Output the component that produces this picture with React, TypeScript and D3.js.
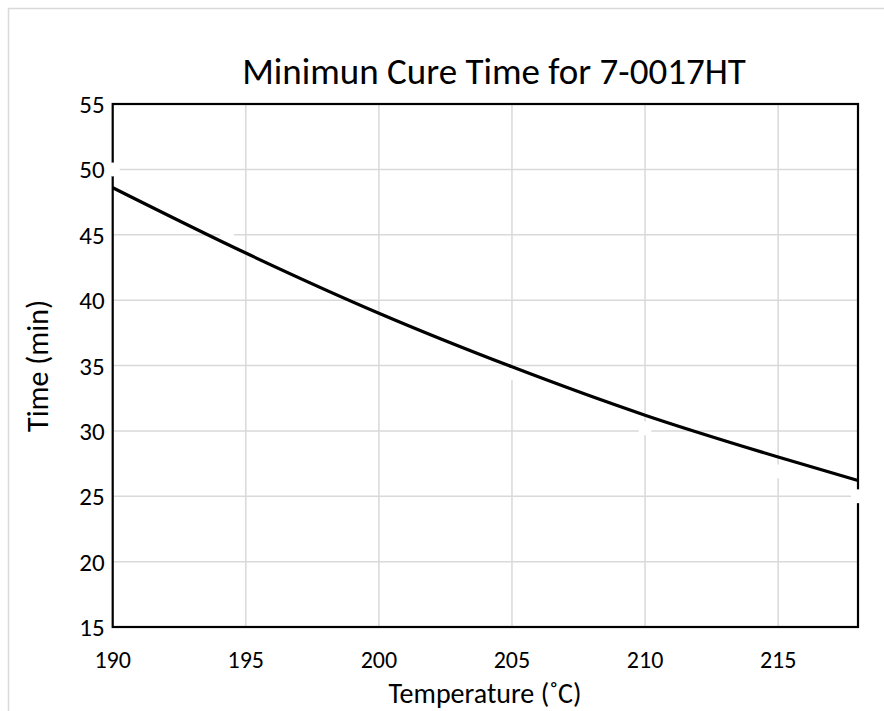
import React from "react";
import * as d3 from "d3";

const temperatures = [190, 195, 200, 205, 210, 215, 218];
const cureTimes = [48.6, 43.6, 39.0, 34.9, 31.2, 28.0, 26.2];

// faint white marker series visible in the reference
const markerTemps = [190, 194.3, 205, 210, 215, 218];
const markerTimes = [50, 45, 34.4, 30.2, 26.9, 25];

const xTicks = [190, 195, 200, 205, 210, 215];
const yTicks = [15, 20, 25, 30, 35, 40, 45, 50, 55];

const title = "Minimun Cure Time for 7-0017HT";
const xTitle = "Temperature (˚C)";
const yTitle = "Time (min)";

const W = 884;
const H = 711;
const left = 112.7;
const right = 858;
const top = 104;
const bottom = 627;
const FONT = "Carlito, Calibri, Lato, 'Liberation Sans', Arial, sans-serif";

export default function App() {
  const x = d3.scaleLinear().domain([190, 218]).range([left, right]);
  const y = d3.scaleLinear().domain([15, 55]).range([bottom, top]);
  const pts: [number, number][] = temperatures.map((t, i) => [t, cureTimes[i]]);
  const line = d3
    .line<[number, number]>()
    .x((d) => x(d[0]))
    .y((d) => y(d[1]))
    .curve(d3.curveMonotoneX);

  return (
    <svg
      width={W}
      height={H}
      style={{ position: "absolute", left: 0, top: 0, background: "#fff" }}
      fontFamily={FONT}
    >
      <rect x={8.5} y={8.5} width={W + 20} height={H + 20} fill="#fff" stroke="#d9d9d9" strokeWidth={1.5} />
      <text x={494} y={84} textAnchor="middle" fontSize={37} fill="#000">
        {title}
      </text>
      {xTicks.map((t) => (
        <line key={"gx" + t} x1={x(t)} x2={x(t)} y1={top} y2={bottom} stroke="#d9d9d9" strokeWidth={1.5} />
      ))}
      {yTicks.map((t) => (
        <line key={"gy" + t} x1={left} x2={right} y1={y(t)} y2={y(t)} stroke="#d9d9d9" strokeWidth={1.5} />
      ))}
      <rect x={left} y={top} width={right - left} height={bottom - top} fill="none" stroke="#000" strokeWidth={2.2} />
      {markerTemps.map((t, i) => (
        <circle key={"m" + i} cx={x(t)} cy={y(markerTimes[i])} r={7} fill="#fff" />
      ))}
      <path d={line(pts) || ""} fill="none" stroke="#000" strokeWidth={3.2} />
      {yTicks.map((t) => (
        <text key={"ty" + t} x={left - 8} y={y(t)} dy="0.36em" textAnchor="end" fontSize={25} fill="#000">
          {t}
        </text>
      ))}
      {xTicks.map((t) => (
        <text key={"tx" + t} x={x(t)} y={668} textAnchor="middle" fontSize={24} fill="#000">
          {t}
        </text>
      ))}
      <text x={485} y={703} textAnchor="middle" fontSize={28} fill="#000">
        {xTitle}
      </text>
      <text transform={`translate(48,366) rotate(-90)`} textAnchor="middle" fontSize={30} fill="#000">
        {yTitle}
      </text>
    </svg>
  );
}
